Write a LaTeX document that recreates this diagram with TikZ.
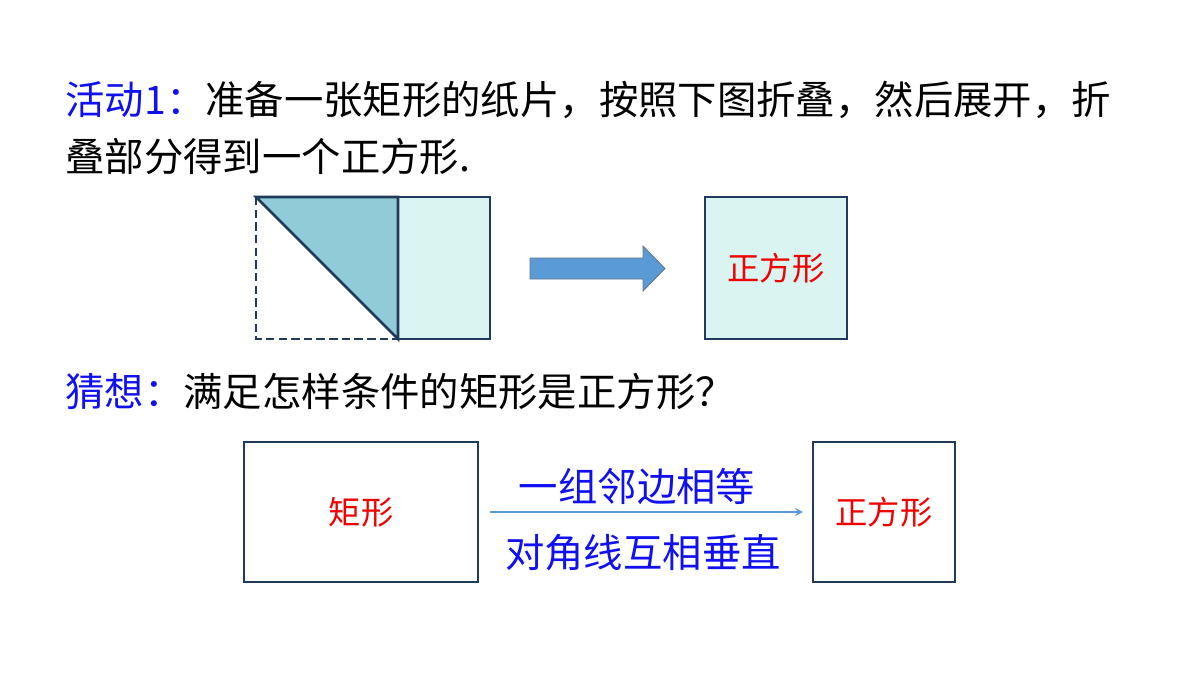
\documentclass[tikz,border=0pt]{standalone}
\usepackage{fontspec}
\setmainfont{Noto Sans CJK SC}
\definecolor{deep}{HTML}{1F3A5A}
\definecolor{fold}{HTML}{92CBD8}
\definecolor{pale}{HTML}{DAF4F1}
\definecolor{arr}{HTML}{5B9BD5}
\definecolor{ttl}{HTML}{1010F0}
\definecolor{mred}{HTML}{F00000}

\begin{document}
\begin{tikzpicture}[x=0.025cm,y=-0.025cm,line width=2pt,
	big/.style={font=\fontsize{28}{34}\selectfont,inner sep=0pt,anchor=west},
	red/.style={text=mred,font=\fontsize{23}{28}\selectfont}]
	\useasboundingbox (0,0) rectangle (1200,675);

	% Текст
	\node[big] (t1) at (64,100) {\textcolor{ttl}{活动1：}准备一张矩形的纸片，按照下图折叠，然后展开，折};
	\node[big] (t2) at (64,157) {叠部分得到一个正方形.};
	\node[big] (t3) at (64,392) {\textcolor{ttl}{猜想：}满足怎样条件的矩形是正方形？};

	% Сложенный лист
	\fill[fold] (256,197) -- (398,197) -- (398,339) -- cycle;
	\fill[pale] (398,197) rectangle (490,339);
	\draw[deep,line width=2pt] (398,197) -- (490,197) -- (490,339) -- (398,339);
	\draw[deep,line width=2pt,dash pattern=on 6pt off 3pt] (256,197) -- (256,339) -- (398,339);
	\draw[deep,line width=2pt] (256,197) -- (398,197) -- (398,339) -- cycle;

	% Стрелка
	\draw[draw=deep!70,fill=arr,line width=0.6pt] (530,258) -- (643,258) -- (643,246) -- (665,268.5)
		-- (643,291) -- (643,279) -- (530,279) -- cycle;

	% Квадрат
	\draw[deep,line width=2pt,fill=pale] (705,197) -- (847,197) -- (847,339) -- (705,339) -- cycle;
	\node[red] (sq1) at (776,268) {正方形};

	% Нижняя схема
	\draw[deep,line width=2pt] (244,442) -- (478,442) -- (478,582) -- (244,582) -- cycle;
	\node[red] (rect) at (361,512) {矩形};
	\draw[deep,line width=2pt] (813,442) -- (955,442) -- (955,582) -- (813,582) -- cycle;
	\node[red] (sq2) at (884,512) {正方形};
	\coordinate (a) at (490,512);
	\coordinate (b) at (803,512);
	\draw[arr,line width=1.5pt,-stealth] (a) -- (b);
	\node[text=ttl,font=\fontsize{28}{34}\selectfont] (c1) at (637,486) {一组邻边相等};
	\node[text=ttl,font=\fontsize{28}{34}\selectfont] (c2) at (643,553) {对角线互相垂直};
\end{tikzpicture}
\end{document}
